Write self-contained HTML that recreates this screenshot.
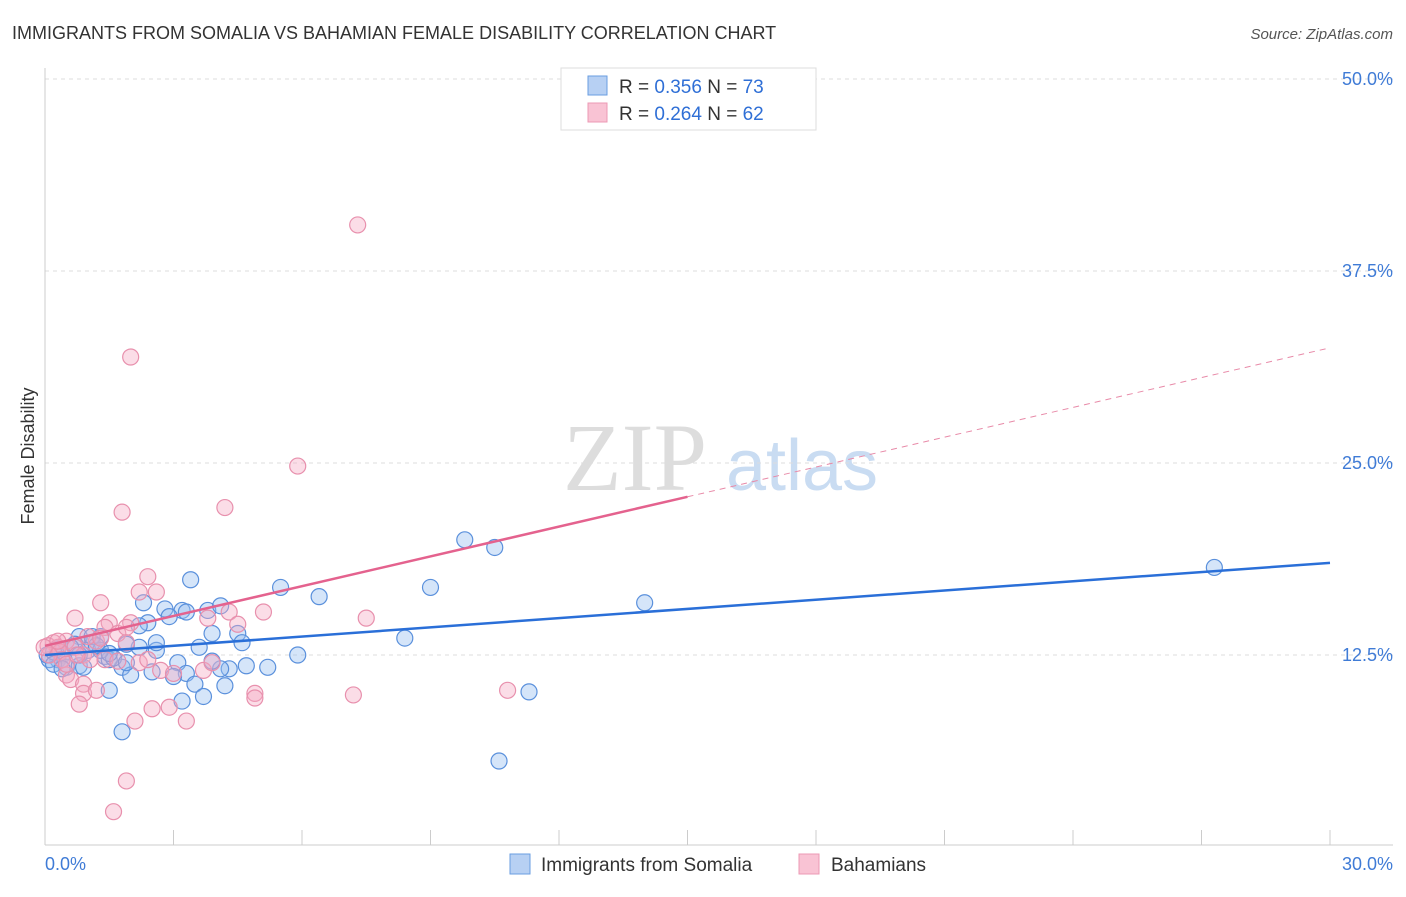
<!DOCTYPE html>
<html><head><meta charset="utf-8"><style>
body{margin:0;background:#fff;font-family:"Liberation Sans",sans-serif}
</style></head><body>
<svg id="chart" width="1406" height="892" xmlns="http://www.w3.org/2000/svg" font-family="Liberation Sans, sans-serif">
<text x="12" y="39" font-size="18" fill="#333">IMMIGRANTS FROM SOMALIA VS BAHAMIAN FEMALE DISABILITY CORRELATION CHART</text>
<text x="1393" y="39" font-size="15" fill="#555" font-style="italic" text-anchor="end">Source: ZipAtlas.com</text>
<g>
<text x="635" y="490" font-size="96" fill="#ddd" font-family="Liberation Serif, serif" text-anchor="middle">ZIP</text>
<text x="802" y="490" font-size="72" fill="#c9dcf2" text-anchor="middle">atlas</text>
</g>
<g id="grid"></g>
<g id="axes"></g>
<g id="pts"></g>
<g id="lines"></g>
<text x="34" y="456" font-size="18" fill="#333" text-anchor="middle" transform="rotate(-90 34 456)">Female Disability</text>
<g>
<rect x="561" y="68" width="255" height="62" fill="#fff" stroke="#ddd"/>
<rect x="588" y="76" width="19" height="19" fill="#b7d0f3" stroke="#6a9ee0"/>
<rect x="588" y="103" width="19" height="19" fill="#f9c3d4" stroke="#ec9ab4"/>
<text x="619" y="93" font-size="19" fill="#333">R = <tspan fill="#2f6fd6">0.356</tspan>   N = <tspan fill="#2f6fd6">73</tspan></text>
<text x="619" y="120" font-size="19" fill="#333">R = <tspan fill="#2f6fd6">0.264</tspan>   N = <tspan fill="#2f6fd6">62</tspan></text>
</g>
<g>
<rect x="510" y="854" width="20" height="20" fill="#b7d0f3" stroke="#6a9ee0"/>
<text x="541" y="871" font-size="19" fill="#333">Immigrants from Somalia</text>
<rect x="799" y="854" width="20" height="20" fill="#f9c3d4" stroke="#ec9ab4"/>
<text x="831" y="871" font-size="19" fill="#333">Bahamians</text>
</g>
</svg>
<script>
const yTicks=[12.5,25,37.5,50];
const yTickLabels=["12.5%","25.0%","37.5%","50.0%"];
const xTickVals=[0,3,6,9,12,15,18,21,24,27,30];
const blueX=[27.3,9.8,10.5,9.0,5.5,3.4,6.4,14.0,2.3,2.8,3.2,3.3,3.8,4.1,2.9,2.4,4.5,3.9,8.4,5.9,5.2,4.7,4.3,4.1,3.9,3.6,3.1,2.6,2.6,2.2,1.9,1.8,2.0,2.5,3.3,3.0,3.5,4.2,3.7,3.2,1.5,11.3,1.8,10.6,1.3,1.1,0.8,1.0,0.7,0.4,0.3,0.1,0.05,0.5,0.8,1.4,1.5,0.3,0.2,4.6,1.6,1.3,0.9,0.4,0.6,1.1,1.2,2.2,1.9,1.5,0.2,0.4,0.8];
const blueY=[18.2,20.0,19.5,16.9,16.9,17.4,16.3,15.9,15.9,15.5,15.4,15.3,15.4,15.7,15.0,14.6,13.9,13.9,13.6,12.5,11.7,11.8,11.6,11.6,12.1,13.0,12.0,12.8,13.3,13.0,13.2,11.7,11.2,11.4,11.3,11.1,10.6,10.5,9.8,9.5,10.2,10.1,7.5,5.6,13.7,13.3,13.7,12.8,13.2,12.5,12.2,12.2,12.5,11.7,11.8,12.4,12.2,12.9,12.7,13.3,12.3,12.8,11.7,12.2,13.0,13.7,13.1,14.4,12.0,12.6,11.9,11.6,12.5];
const pinkX=[7.3,2.0,5.9,4.2,1.8,2.4,2.6,2.2,1.3,0.7,3.8,4.3,5.1,7.5,1.5,1.4,2.0,1.7,1.2,4.5,1.9,1.0,0.5,0.2,0.07,0.3,0.35,0.7,0.9,1.4,1.7,2.2,2.4,2.7,3.0,3.7,3.9,0.5,0.6,0.9,0.9,1.2,4.9,4.9,7.2,10.8,0.8,2.5,2.9,2.1,3.3,1.9,1.6,0.4,0.1,-0.02,0.3,1.05,1.3,1.9,0.5,0.75];
const pinkY=[40.5,31.9,24.8,22.1,21.8,17.6,16.6,16.6,15.9,14.9,14.9,15.3,15.3,14.9,14.6,14.3,14.6,13.9,13.4,14.5,14.3,13.7,13.4,13.3,13.1,13.0,12.7,13.0,12.5,12.2,12.1,12.0,12.2,11.5,11.3,11.5,12.0,11.2,10.9,10.6,10.0,10.2,10.0,9.7,9.9,10.2,9.3,9.0,9.1,8.2,8.2,4.3,2.3,12.2,12.5,13.0,13.4,12.2,13.6,13.3,11.9,12.5];
const blueLine=[12.5,18.5];
const pinkLine=[13.1,32.5];
const pinkSolidEnd=15;
const X0=45,X1=1330,Y0=847,PXY=15.36;
const sx=v=>X0+(X1-X0)*v/30, sy=v=>Y0-v*PXY;
const NS="http://www.w3.org/2000/svg";
function mk(p,t,a){const e=document.createElementNS(NS,t);for(const k in a)e.setAttribute(k,a[k]);document.getElementById(p).appendChild(e);return e;}
yTicks.forEach((t,i)=>{
 const g=mk('grid','line',{x1:45,x2:1393,y1:sy(t),y2:sy(t),stroke:'#ddd','stroke-dasharray':'4,4'});
 
 
 const l=mk('grid','text',{x:1393,y:sy(t)+6,'font-size':18,fill:'#3f7bd6','text-anchor':'end'});
 l.textContent=yTickLabels[i];
 
 
});
let ax=mk('axes','line',{x1:45,x2:45,y1:68,y2:845,stroke:'#ccc'});


ax=mk('axes','line',{x1:45,x2:1393,y1:845,y2:845,stroke:'#ccc'});


xTickVals.forEach(v=>{
 const t=mk('axes','line',{x1:sx(v),x2:sx(v),y1:830,y2:845,stroke:'#ccc'});
 
 
});
let t=mk('axes','text',{x:45,y:870,'font-size':18,fill:'#3f7bd6'});t.textContent='0.0%';


t=mk('axes','text',{x:1393,y:870,'font-size':18,fill:'#3f7bd6','text-anchor':'end'});t.textContent='30.0%';


blueX.forEach((x,i)=>{
 const c=mk('pts','circle',{cx:sx(x),cy:sy(blueY[i]),r:8,fill:'rgba(150,190,240,0.4)',stroke:'#5a90dc','stroke-width':1.2});
 
 
});
pinkX.forEach((x,i)=>{
 const c=mk('pts','circle',{cx:sx(x),cy:sy(pinkY[i]),r:8,fill:'rgba(245,170,195,0.4)',stroke:'#e890ad','stroke-width':1.2});
 
 
});
const pAt=v=>pinkLine[0]+(pinkLine[1]-pinkLine[0])*v/30;
let ln=mk('lines','line',{x1:sx(0),y1:sy(blueLine[0]),x2:sx(30),y2:sy(blueLine[1]),stroke:'#2a6fd8','stroke-width':2.5});


ln=mk('lines','line',{x1:sx(0),y1:sy(pAt(0)),x2:sx(pinkSolidEnd),y2:sy(pAt(pinkSolidEnd)),stroke:'#e4628e','stroke-width':2.5});


ln=mk('lines','line',{x1:sx(pinkSolidEnd),y1:sy(pAt(pinkSolidEnd)),x2:sx(30),y2:sy(pAt(30)),stroke:'#e88aa8','stroke-width':1,'stroke-dasharray':'6,5'});


</script>
</body></html>
